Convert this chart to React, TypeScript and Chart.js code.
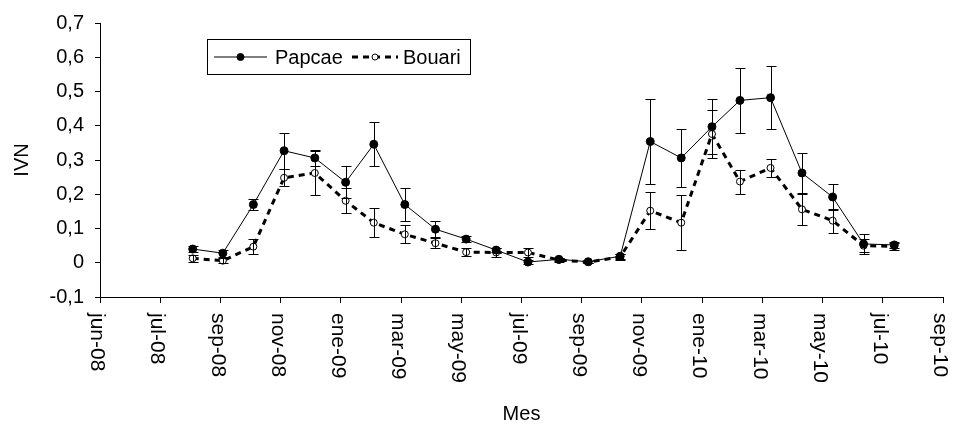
import React, { useEffect, useRef } from "react";
import { Chart, registerables } from "chart.js";

Chart.register(...registerables);

// X axis: one unit = one labelled interval (0 = jun-08 ... 14 = sep-10)
const xTickLabels = [
  "jun-08", "jul-08", "sep-08", "nov-08", "ene-09", "mar-09", "may-09", "jul-09",
  "sep-09", "nov-09", "ene-10", "mar-10", "may-10", "jul-10", "sep-10",
];
const yTickLabels = ["-0,1", "0", "0,1", "0,2", "0,3", "0,4", "0,5", "0,6", "0,7"];

// Monthly sampling dates, expressed in x-axis units
const samplePos = [
  1.54, 2.04, 2.547, 3.057, 3.567, 4.079, 4.547, 5.062, 5.571, 6.081, 6.579, 7.107,
  7.621, 8.108, 8.639, 9.138, 9.653, 10.163, 10.628, 11.136, 11.658, 12.167, 12.681, 13.191,
];

const seriesNames = ["Papcae", "Bouari"];

const papcae = [
  0.04, 0.028, 0.17, 0.327, 0.306, 0.235, 0.346, 0.17, 0.098, 0.069, 0.037, 0.002,
  0.01, 0.003, 0.019, 0.354, 0.306, 0.397, 0.474, 0.482, 0.262, 0.192, 0.055, 0.052,
];
const papcaeErr = [
  0.01, 0.01, 0.015, 0.053, 0.023, 0.047, 0.064, 0.049, 0.024, 0.009, 0.007, 0.005,
  0.005, 0.003, 0.008, 0.125, 0.085, 0.08, 0.095, 0.091, 0.057, 0.037, 0.028, 0.008,
];
const bouari = [
  0.013, 0.006, 0.047, 0.248, 0.262, 0.181, 0.117, 0.083, 0.057, 0.031, 0.03, 0.03,
  0.008, 0.002, 0.017, 0.152, 0.117, 0.376, 0.237, 0.277, 0.156, 0.123, 0.05, 0.048,
];
const bouariErr = [
  0.01, 0.008, 0.021, 0.025, 0.064, 0.037, 0.043, 0.026, 0.015, 0.011, 0.014, 0.012,
  0.005, 0.003, 0.008, 0.054, 0.08, 0.07, 0.035, 0.027, 0.045, 0.035, 0.02, 0.01,
];

const FONT = '"Liberation Sans", Arial, Helvetica, sans-serif';

const errorBarPlugin = {
  id: "errorBars",
  afterDatasetsDraw(chart: any) {
    const { ctx, scales } = chart;
    const y = scales.y;
    ctx.save();
    ctx.strokeStyle = "#000";
    ctx.lineWidth = 1;
    chart.data.datasets.forEach((ds: any, di: number) => {
      const meta = chart.getDatasetMeta(di);
      ds.data.forEach((pt: any, i: number) => {
        const el = meta.data[i];
        if (!el) return;
        const e = ds.errors[i];
        const px = Math.round(el.x) + 0.5;
        const top = Math.round(y.getPixelForValue(pt.y + e)) + 0.5;
        const bot = Math.round(y.getPixelForValue(pt.y - e)) + 0.5;
        ctx.beginPath();
        ctx.moveTo(px, top);
        ctx.lineTo(px, bot);
        ctx.moveTo(px - 5, top);
        ctx.lineTo(px + 5, top);
        ctx.moveTo(px - 5, bot);
        ctx.lineTo(px + 5, bot);
        ctx.stroke();
      });
    });
    ctx.restore();
  },
};

const xLabelPlugin = {
  id: "xLabels",
  afterDraw(chart: any) {
    const { ctx, scales, chartArea } = chart;
    const x = scales.x;
    ctx.save();
    ctx.fillStyle = "#000";
    ctx.font = `21px ${FONT}`;
    ctx.textAlign = "left";
    ctx.textBaseline = "middle";
    xTickLabels.forEach((lab, i) => {
      const px = x.getPixelForValue(i);
      ctx.save();
      ctx.translate(px - 3, chartArea.bottom + 16);
      ctx.rotate(Math.PI / 2);
      ctx.fillText(lab, 0, 0);
      ctx.restore();
    });
    ctx.restore();
  },
};

const legendPlugin = {
  id: "boxLegend",
  afterDraw(chart: any) {
    const { ctx } = chart;
    ctx.save();
    const bx = 207.5, by = 39.5, bw = 263, bh = 35;
    ctx.fillStyle = "#fff";
    ctx.fillRect(bx, by, bw, bh);
    ctx.strokeStyle = "#000";
    ctx.lineWidth = 1;
    ctx.strokeRect(bx, by, bw, bh);
    const cy = 57;
    const slots = [
      { x0: 214, x1: 267, tx: 275, r: 3.5 },
      { x0: 352, x1: 398, tx: 403, r: 3 },
    ];
    chart.data.datasets.forEach((ds: any, i: number) => {
      const s = slots[i];
      ctx.save();
      ctx.strokeStyle = ds.borderColor;
      ctx.lineWidth = ds.borderWidth;
      ctx.setLineDash(ds.borderDash || []);
      ctx.beginPath();
      ctx.moveTo(s.x0, cy);
      ctx.lineTo(s.x1, cy);
      ctx.stroke();
      ctx.setLineDash([]);
      const mx = (s.x0 + s.x1) / 2;
      ctx.beginPath();
      ctx.arc(mx, cy, s.r, 0, Math.PI * 2);
      ctx.fillStyle = ds.pointBackgroundColor;
      ctx.fill();
      ctx.lineWidth = 1;
      ctx.strokeStyle = "#000";
      ctx.stroke();
      ctx.fillStyle = "#000";
      ctx.font = `20px ${FONT}`;
      ctx.textAlign = "left";
      ctx.textBaseline = "middle";
      ctx.fillText(seriesNames[i], s.tx, cy + 1);
      ctx.restore();
    });
    ctx.restore();
  },
};

export default function App() {
  const ref = useRef<HTMLCanvasElement | null>(null);

  useEffect(() => {
    if (!ref.current) return;
    const chart = new Chart(ref.current, {
      type: "line",
      data: {
        datasets: [
          {
            label: seriesNames[0],
            data: samplePos.map((p, i) => ({ x: p, y: papcae[i] })),
            errors: papcaeErr,
            borderColor: "#000",
            borderWidth: 1,
            pointRadius: 4,
            pointBackgroundColor: "#000",
            pointBorderColor: "#000",
            pointBorderWidth: 1,
            tension: 0,
          } as any,
          {
            label: seriesNames[1],
            data: samplePos.map((p, i) => ({ x: p, y: bouari[i] })),
            errors: bouariErr,
            borderColor: "#000",
            borderWidth: 3,
            borderDash: [6, 5],
            pointRadius: 3.5,
            pointBackgroundColor: "#fff",
            pointBorderColor: "#000",
            pointBorderWidth: 1,
            tension: 0,
          } as any,
        ],
      },
      options: {
        animation: false,
        responsive: false,
        devicePixelRatio: 1,
        layout: { padding: { left: 0, right: 11, top: 17, bottom: 0 } },
        plugins: { legend: { display: false }, tooltip: { enabled: false } },
        scales: {
          x: {
            type: "linear",
            min: 0,
            max: 14,
            offset: false,
            afterFit: (s: any) => {
              s.height = 130;
            },
            ticks: { display: false, stepSize: 1 },
            grid: {
              display: true,
              drawOnChartArea: false,
              drawTicks: true,
              tickLength: 6,
              color: "#000",
              lineWidth: 1,
            },
            border: { display: true, color: "#000", width: 1 },
            title: {
              display: true,
              text: "Mes",
              color: "#000",
              font: { family: FONT, size: 20 },
              padding: { top: 0, bottom: 1 },
            },
          },
          y: {
            type: "linear",
            min: -0.1,
            max: 0.7,
            afterFit: (s: any) => {
              s.width = 100;
            },
            ticks: {
              stepSize: 0.1,
              color: "#000",
              padding: 11,
              font: { family: FONT, size: 20 },
              callback: (v: any) => yTickLabels[Math.round(Number(v) * 10) + 1] ?? "",
            },
            grid: {
              display: true,
              drawOnChartArea: false,
              drawTicks: true,
              tickLength: 5,
              color: "#000",
              lineWidth: 1,
            },
            border: { display: true, color: "#000", width: 1 },
            title: {
              display: true,
              text: "IVN",
              color: "#000",
              font: { family: FONT, size: 20 },
              padding: { top: 10, bottom: 0 },
            },
          },
        },
      },
      plugins: [errorBarPlugin, xLabelPlugin, legendPlugin],
    } as any);
    return () => chart.destroy();
  }, []);

  return (
    <div style={{ position: "fixed", left: 0, top: 0, width: 954, height: 427, background: "#fff" }}>
      <canvas ref={ref} width={954} height={427} />
    </div>
  );
}
